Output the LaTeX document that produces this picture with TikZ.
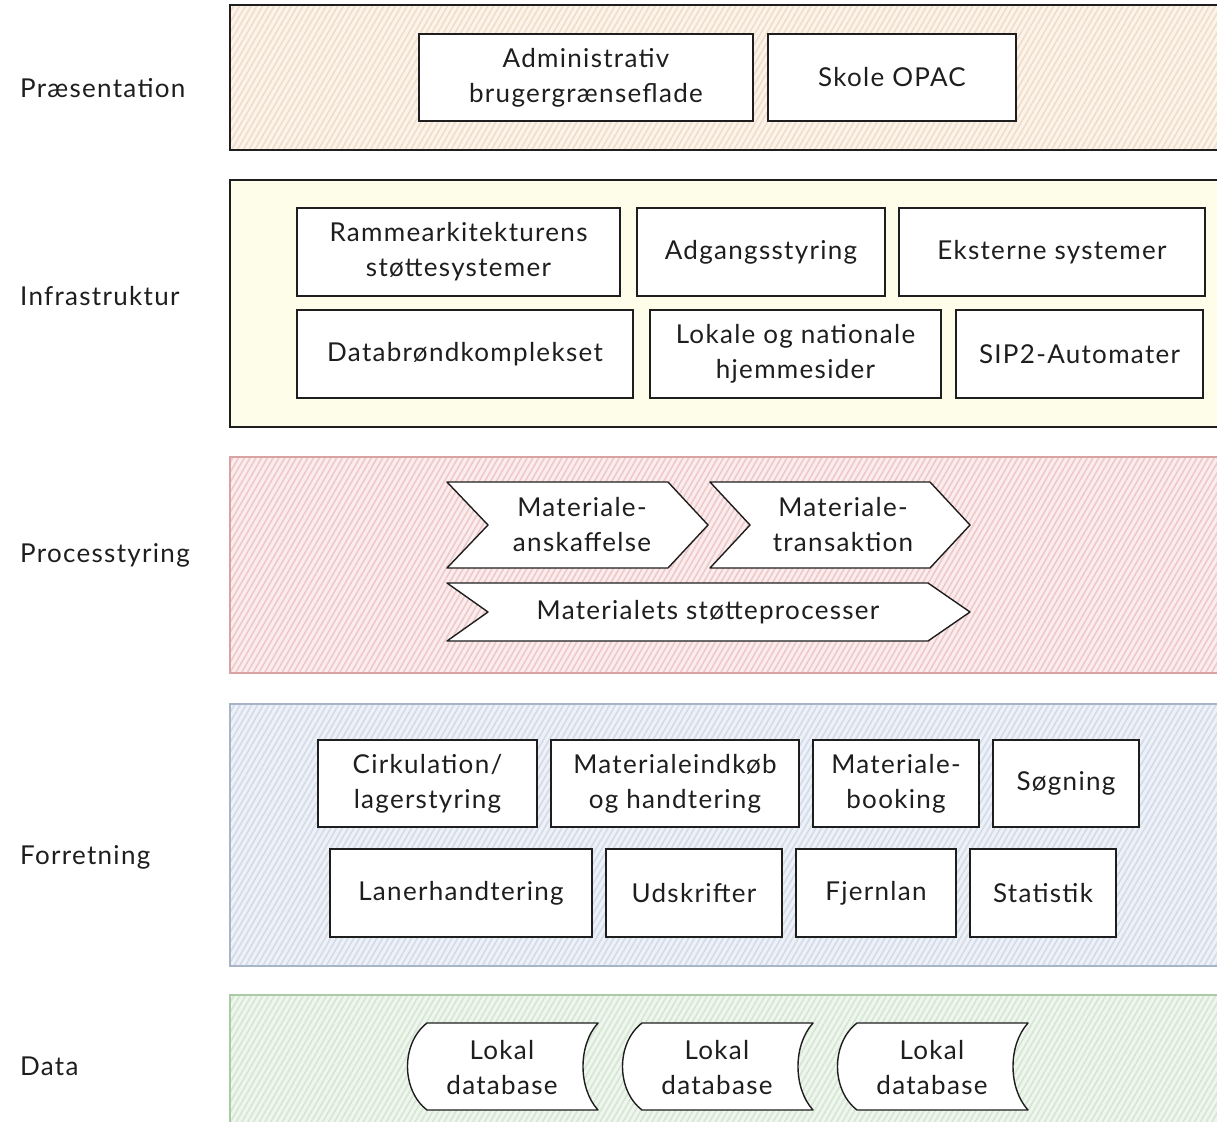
\documentclass[tikz,border=0pt]{standalone}
\usepackage{fontspec}
\setmainfont{Lato}[LetterSpace=5]
\usetikzlibrary{patterns.meta}
\definecolor{ink}{HTML}{1E1E1E}
\definecolor{preFill}{HTML}{FCF4EC}
\definecolor{preLine}{HTML}{F1DDC7}
\definecolor{infFill}{HTML}{FDFDEA}
\definecolor{proFill}{HTML}{FBEDED}
\definecolor{proLine}{HTML}{EFC9C9}
\definecolor{proEdge}{HTML}{D9A3A3}
\definecolor{forFill}{HTML}{EEF2F8}
\definecolor{forLine}{HTML}{D3DBE8}
\definecolor{forEdge}{HTML}{A8B5C8}
\definecolor{datFill}{HTML}{EFF6EE}
\definecolor{datLine}{HTML}{D5E6D3}
\definecolor{datEdge}{HTML}{AACBA6}
\tikzset{
  layer/.style n args={3}{preaction={fill=#1},
    preaction={pattern={Lines[angle=60,distance=5pt,line width=1.6pt]}, pattern color=#2},
    draw=#3, line width=1.5pt},
  lbl/.style={anchor=base west, text=ink, font=\fontsize{26}{35}\selectfont, inner sep=0pt},
  txt/.style={text=ink, font=\fontsize{26}{35}\selectfont, align=center, inner sep=0pt},
  box/.style={draw=ink, fill=white, line width=1.4pt, text=ink, align=center,
    inner sep=0pt, font=\fontsize{26}{35}\selectfont},
  shp/.style={draw=ink, fill=white, line width=1.4pt, line join=round},
}
\begin{document}
\begin{tikzpicture}[x=1pt,y=-1pt]
\useasboundingbox (0,0) rectangle (1217,1121);
\clip (0,0) rectangle (1217,1121);
\fill[white] (0,0) rectangle (1217,1121);
% layers
\path[layer={preFill}{preLine}{ink}] (230,5) rectangle (1232,150);
\path[fill=infFill, draw=ink, line width=1.5pt] (230,180) rectangle (1232,427);
\path[layer={proFill}{proLine}{proEdge}] (230,457) rectangle (1232,673);
\path[layer={forFill}{forLine}{forEdge}] (230,704) rectangle (1232,966);
\path[layer={datFill}{datLine}{datEdge}] (230,995) rectangle (1232,1135);
% labels
\node[lbl] (lPre) at (20,98) {Præsentation};
\node[lbl] (lInf) at (20,305) {Infrastruktur};
\node[lbl] (lPro) at (20,562) {Processtyring};
\node[lbl] (lFor) at (20,864) {Forretning};
\node[lbl] (lDat) at (20,1075) {Data};
% presentation
\node[box, minimum width=334pt, minimum height=87pt] (admin) at (586,77.5) {Administrativ\\brugergrænseflade};
\node[box, minimum width=248pt, minimum height=87pt] (opac) at (892,77.5) {Skole OPAC};
% infrastructure
\node[box, minimum width=323pt, minimum height=88pt] (ramme) at (458.5,252) {Rammearkitekturens\\støttesystemer};
\node[box, minimum width=248pt, minimum height=88pt] (adgang) at (761,252) {Adgangsstyring};
\node[box, minimum width=306pt, minimum height=88pt] (ekstern) at (1052,252) {Eksterne systemer};
\node[box, minimum width=336pt, minimum height=88pt] (brond) at (465,354) {Databrøndkomplekset};
\node[box, minimum width=291pt, minimum height=88pt] (lokale) at (795.5,354) {Lokale og nationale\\hjemmesider};
\node[box, minimum width=247pt, minimum height=88pt] (sip) at (1079.5,354) {SIP2-Automater};
% process chevrons
\draw[shp] (447,482) -- (668,482) -- (708,525) -- (668,568) -- (447,568) -- (488,525) -- cycle;
\node[txt] (anskaf) at (582,525) {Materiale-\\anskaffelse};
\draw[shp] (710,482) -- (930,482) -- (970,525) -- (930,568) -- (710,568) -- (750,525) -- cycle;
\node[txt] (trans) at (843,525) {Materiale-\\transaktion};
\draw[shp] (447,583) -- (928,583) -- (970,612) -- (928,641) -- (447,641) -- (488,612) -- cycle;
\node[txt] (stotte) at (708,612) {Materialets støtteprocesser};
% business
\node[box, minimum width=219pt, minimum height=87pt] (cirk) at (427.5,783.5) {Cirkulation/\\lagerstyring};
\node[box, minimum width=248pt, minimum height=87pt] (indkob) at (675,783.5) {Materialeindkøb\\og handtering};
\node[box, minimum width=166pt, minimum height=87pt] (booking) at (896,783.5) {Materiale-\\booking};
\node[box, minimum width=146pt, minimum height=87pt] (soeg) at (1066,783.5) {Søgning};
\node[box, minimum width=262pt, minimum height=88pt] (laner) at (461,893) {Lanerhandtering};
\node[box, minimum width=176pt, minimum height=88pt] (udskr) at (694,893) {Udskrifter};
\node[box, minimum width=160pt, minimum height=88pt] (fjern) at (876,893) {Fjernlan};
\node[box, minimum width=146pt, minimum height=88pt] (stat) at (1043,893) {Statistik};
% data stores
\foreach \dx/\nm in {0/dbA,215/dbB,430/dbC}{
  \begin{scope}[xshift=\dx pt]
  \draw[shp] (427,1023) -- (598,1023) .. controls (578,1045) and (578,1088) .. (598,1110)
     -- (427,1110) .. controls (401,1090) and (401,1043) .. (427,1023) -- cycle;
  \node[txt] (\nm) at (502,1068) {Lokal\\database};
  \end{scope}
}
\end{tikzpicture}
\end{document}
